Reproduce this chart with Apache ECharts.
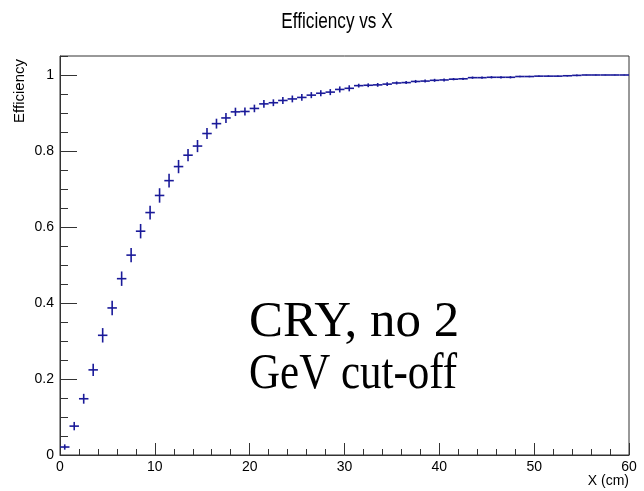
<!DOCTYPE html>
<html>
<head>
<meta charset="utf-8">
<script src="https://cdn.jsdelivr.net/npm/echarts@6/dist/echarts.min.js"></script>
<style>html,body{margin:0;padding:0;background:#fff}#c{width:644px;height:491px}</style>
</head>
<body>
<div id="c"></div>
<script>
// ---- data ----
const binCenters = [0.5,1.5,2.5,3.5,4.5,5.5,6.5,7.5,8.5,9.5,10.5,11.5,12.5,13.5,14.5,15.5,16.5,17.5,18.5,19.5,
  20.5,21.5,22.5,23.5,24.5,25.5,26.5,27.5,28.5,29.5,30.5,31.5,32.5,33.5,34.5,35.5,36.5,37.5,38.5,39.5,
  40.5,41.5,42.5,43.5,44.5,45.5,46.5,47.5,48.5,49.5,50.5,51.5,52.5,53.5,54.5,55.5,56.5,57.5,58.5,59.5];
const efficiency = [0.021,0.076,0.148,0.224,0.315,0.387,0.464,0.526,0.589,0.638,0.683,0.722,0.759,0.789,0.813,0.846,0.872,0.887,0.903,0.904,
  0.912,0.924,0.927,0.933,0.937,0.941,0.947,0.952,0.955,0.962,0.965,0.972,0.973,0.974,0.976,0.979,0.980,0.983,0.984,0.986,
  0.987,0.989,0.990,0.993,0.993,0.994,0.994,0.994,0.996,0.996,0.997,0.997,0.997,0.998,0.999,1.0,1.0,1.0,1.0,1.0];
const errors = [0.007,0.011,0.013,0.016,0.019,0.019,0.019,0.019,0.019,0.018,0.019,0.018,0.0175,0.016,0.016,0.0145,0.013,0.013,0.011,0.0105,
  0.010,0.0105,0.009,0.009,0.009,0.009,0.008,0.008,0.008,0.008,0.008,0.005,0.005,0.005,0.005,0.004,0.004,0.004,0.004,0.004,
  0.004,0.003,0.003,0.003,0.003,0.003,0.003,0.003,0.002,0.002,0.002,0.002,0.002,0.002,0.002,0.001,0.001,0.001,0.001,0.001];
const binWidth = 1;
const xTicks = [0,10,20,30,40,50,60];
const yTicks = [0,0.2,0.4,0.6,0.8,1];
const titleText = 'Efficiency vs X';
const xTitle = 'X (cm)';
const yTitle = 'Efficiency';
const noteLines = ['CRY, no 2', 'GeV cut-off'];

const seriesData = binCenters.map((x, i) => [x, efficiency[i], errors[i]]);
const lineColor = '#1a1a99';
const sans = "'Liberation Sans', Arial, Helvetica, sans-serif";
const serif = "'Liberation Serif', 'Times New Roman', serif";

const chart = echarts.init(document.getElementById('c'), null, {renderer: 'canvas'});
chart.setOption({
  animation: false,
  backgroundColor: '#fff',
  grid: {left: 60, right: 15, top: 56, bottom: 36, show: true, borderColor: '#333', borderWidth: 1, backgroundColor: 'transparent'},
  xAxis: {
    type: 'value', min: xTicks[0], max: xTicks[xTicks.length - 1], interval: xTicks[1] - xTicks[0],
    axisLine: {show: true, onZero: false, lineStyle: {color: '#333', width: 1}},
    axisTick: {show: true, inside: true, length: 12, lineStyle: {color: '#333'}},
    minorTick: {show: true, splitNumber: 5, length: 6, lineStyle: {color: '#333'}},
    splitLine: {show: false},
    axisLabel: {color: '#000', fontSize: 14, fontFamily: sans, margin: 5}
  },
  yAxis: [{
    type: 'value', min: yTicks[0], max: 1.05, interval: yTicks[1] - yTicks[0],
    axisLine: {show: true, onZero: false, lineStyle: {color: '#333', width: 1}},
    axisTick: {show: true, inside: true, length: 17, lineStyle: {color: '#333'}},
    splitLine: {show: false},
    axisLabel: {color: '#000', fontSize: 14, fontFamily: sans, margin: 6, showMaxLabel: false}
  }, {
    type: 'value', min: yTicks[0], max: 1.05, interval: 0.05, position: 'left',
    axisLine: {show: false},
    axisTick: {show: true, inside: true, length: 8, lineStyle: {color: '#333'}},
    splitLine: {show: false},
    axisLabel: {show: false}
  }],
  graphic: [
    {type: 'text', x: 337, y: 22, scaleX: 0.78, style: {text: titleText, fontSize: 22, fontFamily: sans, fill: '#000', textAlign: 'center', textVerticalAlign: 'middle'}},
    {type: 'text', x: 629, y: 481, style: {text: xTitle, fontSize: 14, fontFamily: sans, fill: '#000', textAlign: 'right', textVerticalAlign: 'middle'}},
    {type: 'text', x: 20, y: 59, rotation: Math.PI / 2, style: {text: yTitle, fontSize: 15, fontFamily: sans, fill: '#000', textAlign: 'right', textVerticalAlign: 'middle'}},
    {type: 'text', x: 249, y: 348, scaleX: 1.02, style: {text: noteLines[0], fontSize: 50, fontFamily: serif, fill: '#000', textAlign: 'left', textVerticalAlign: 'bottom'}},
    {type: 'text', x: 249, y: 400, scaleX: 0.86, style: {text: noteLines[1], fontSize: 50, fontFamily: serif, fill: '#000', textAlign: 'left', textVerticalAlign: 'bottom'}}
  ],
  series: [{
    type: 'custom',
    xAxisIndex: 0, yAxisIndex: 0,
    data: seriesData,
    renderItem: function (params, api) {
      const x = api.value(0), y = api.value(1), e = api.value(2);
      const pL = api.coord([x - binWidth / 2, y]);
      const pR = api.coord([x + binWidth / 2, y]);
      const pT = api.coord([x, y + e]);
      const pB = api.coord([x, y - e]);
      const st = {stroke: lineColor, lineWidth: 1.6};
      return {type: 'group', children: [
        {type: 'line', shape: {x1: pL[0], y1: pL[1], x2: pR[0], y2: pR[1]}, style: st},
        {type: 'line', shape: {x1: pT[0], y1: pT[1], x2: pB[0], y2: pB[1]}, style: st}
      ]};
    }
  }]
});
</script>
</body>
</html>
